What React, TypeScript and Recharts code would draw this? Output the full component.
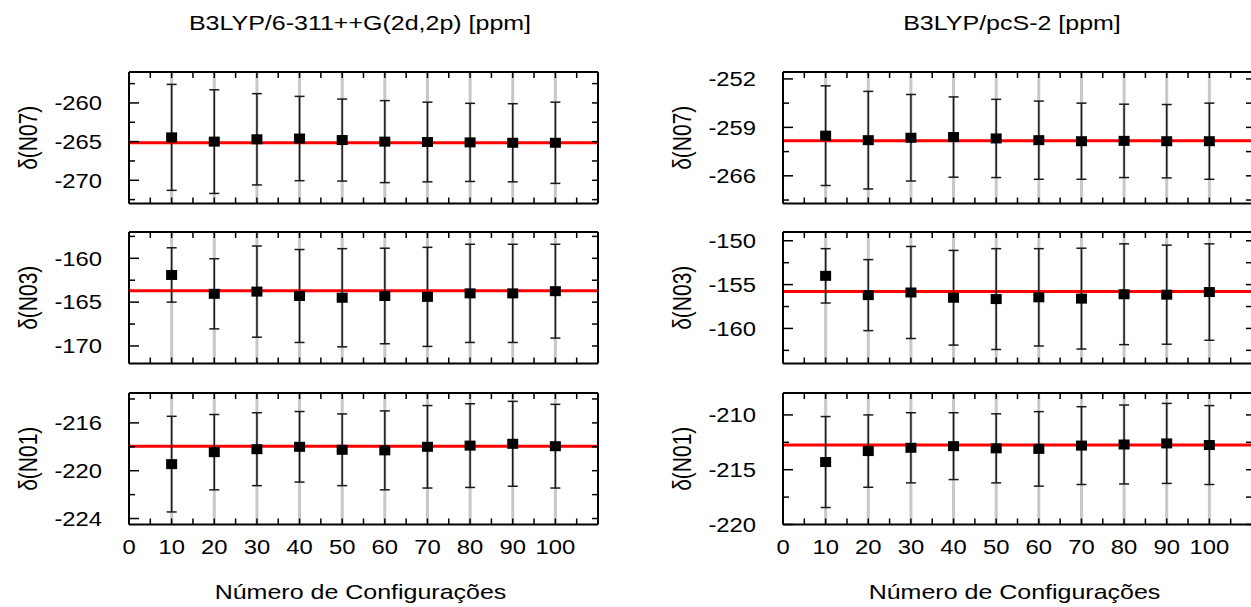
import React from 'react';
import {
  ComposedChart, Scatter, ErrorBar, XAxis, YAxis, ReferenceLine, CartesianGrid,
} from 'recharts';

// número de configurações
const configs = [10, 20, 30, 40, 50, 60, 70, 80, 90, 100];
const xLabelTicks = [0, 10, 20, 30, 40, 50, 60, 70, 80, 90, 100];
const xMinorTicks = [5, 15, 25, 35, 45, 55, 65, 75, 85, 95, 105];

// B3LYP/6-311++G(2d,2p)
const leftN07 = [-264.45, -265.0, -264.7, -264.6, -264.8, -265.0, -265.05, -265.1, -265.15, -265.15];
const leftN07Err = [6.85, 6.7, 5.9, 5.45, 5.3, 5.3, 5.15, 5.05, 5.05, 5.25];
const leftN07Mean = -265.15;
const leftN07Ticks = [-260, -265, -270];
const leftN07Minor = [-257.5, -262.5, -267.5, -272.5];

const leftN03 = [-161.9, -164.05, -163.8, -164.3, -164.5, -164.3, -164.4, -164.0, -164.0, -163.75];
const leftN03Err = [3.1, 4.0, 5.2, 5.3, 5.6, 5.45, 5.65, 5.6, 5.6, 5.35];
const leftN03Mean = -163.7;
const leftN03Ticks = [-160, -165, -170];
const leftN03Minor = [-157.5, -162.5, -167.5];

const leftN01 = [-219.45, -218.45, -218.2, -218.0, -218.25, -218.3, -218.0, -217.9, -217.75, -217.95];
const leftN01Err = [4.0, 3.15, 3.05, 2.95, 3.0, 3.3, 3.45, 3.5, 3.55, 3.5];
const leftN01Mean = -217.95;
const leftN01Ticks = [-216, -220, -224];
const leftN01Minor = [-214, -218, -222];

// B3LYP/pcS-2
const rightN07 = [-260.2, -260.85, -260.5, -260.4, -260.6, -260.85, -261.0, -260.95, -261.0, -261.0];
const rightN07Err = [7.2, 7.05, 6.25, 5.8, 5.65, 5.65, 5.5, 5.3, 5.3, 5.5];
const rightN07Mean = -260.95;
const rightN07Ticks = [-252, -259, -266];
const rightN07Minor = [-255.5, -262.5, -269.5];

const rightN03 = [-154.0, -156.2, -155.9, -156.5, -156.65, -156.45, -156.6, -156.1, -156.15, -155.85];
const rightN03Err = [3.1, 4.05, 5.25, 5.4, 5.75, 5.55, 5.75, 5.75, 5.65, 5.5];
const rightN03Mean = -155.8;
const rightN03Ticks = [-150, -155, -160];
const rightN03Minor = [-152.5, -157.5, -162.5];

const rightN01 = [-214.3, -213.3, -213.0, -212.85, -213.05, -213.1, -212.8, -212.7, -212.6, -212.75];
const rightN01Err = [4.15, 3.3, 3.2, 3.05, 3.15, 3.4, 3.55, 3.6, 3.65, 3.6];
const rightN01Mean = -212.75;
const rightN01Ticks = [-210, -215, -220];
const rightN01Minor = [-212.5, -217.5];

const FONT = '"Liberation Sans", Arial, Helvetica, sans-serif';
const STRETCH = 1.19; // the picture is a little wider than tall
const PLOT_W = 469;
const PLOT_H = 131.5;
const AXIS_W = 128;
const TOP = 10;
const RIGHT = 12;
const Y_GAP = 27;
const X_GAP = 29;
const AXIS_LINE = { stroke: '#000', strokeWidth: 2 };

const xTicks = [...xLabelTicks, ...xMinorTicks].sort((a, b) => a - b);
const isIn = (list: number[], v: number) => list.some((t) => Math.abs(t - v) < 1e-6);

const StretchText = ({ x, y, anchor, size, children, dy = 0 }: any) => (
  <g transform={`translate(${x},${y}) scale(${STRETCH},1)`}>
    <text x={0} y={0} dy={dy} textAnchor={anchor} fontSize={size} fontFamily={FONT} fill="#000">
      {children}
    </text>
  </g>
);

const makeLeftTick = (labels: number[]) => (props: any) => {
  const { x, y, payload } = props;
  const major = isIn(labels, payload.value);
  const edge = x + Y_GAP;
  return (
    <g>
      <line x1={edge} x2={edge + (major ? 10 : 6)} y1={y} y2={y} stroke="#000" strokeWidth={1.5} />
      {major && <StretchText x={x} y={y} dy="0.36em" anchor="end" size={20}>{payload.value}</StretchText>}
    </g>
  );
};

const rightTick = (props: any) => {
  const { x, y } = props;
  return <line x1={x} x2={x - 6} y1={y} y2={y} stroke="#000" strokeWidth={1.5} />;
};

const topTick = (props: any) => {
  const { x, y } = props;
  return <line x1={x} x2={x} y1={y} y2={y + 6} stroke="#000" strokeWidth={1.5} />;
};

const makeBottomTick = (showLabels: boolean) => (props: any) => {
  const { x, y, payload } = props;
  const edge = y - X_GAP;
  const major = isIn(xLabelTicks, payload.value);
  return (
    <g>
      <line x1={x} x2={x} y1={edge} y2={edge - 6} stroke="#000" strokeWidth={1.5} />
      {showLabels && major && <StretchText x={x} y={y} anchor="middle" size={20}>{payload.value}</StretchText>}
    </g>
  );
};

const Square = (props: any) => {
  const { cx, cy } = props;
  return <rect x={cx - 5.5} y={cy - 5} width={11} height={10} fill="#000" />;
};

type PanelProps = {
  values: number[];
  errors: number[];
  mean: number;
  domain: [number, number];
  labelTicks: number[];
  minorTicks: number[];
  yLabel: string;
  left: number;
  top: number;
  bottom: boolean;
};

const Panel: React.FC<PanelProps> = (p) => {
  const data = configs.map((x, i) => ({ x, y: p.values[i], err: p.errors[i] }));
  const yTicks = [...p.labelTicks, ...p.minorTicks].sort((a, b) => a - b);
  const xh = p.bottom ? 90 : 30;

  const yLabel = (lp: any) => {
    const vb = lp.viewBox;
    const cx = vb.x + vb.width - 101;
    const cy = vb.y + vb.height / 2;
    return (
      <g transform={`translate(${cx},${cy}) scale(${STRETCH},1) rotate(-90)`}>
        <text x={0} y={0} dy="0.35em" textAnchor="middle" fontSize={21} fontFamily={FONT} fill="#000">
          {p.yLabel}
        </text>
      </g>
    );
  };

  const xLabel = (lp: any) => {
    const vb = lp.viewBox;
    return (
      <StretchText x={vb.x + vb.width / 2 - 3} y={vb.y + 74} anchor="middle" size={21}>
        Número de Configurações
      </StretchText>
    );
  };

  return (
    <div style={{ position: 'absolute', left: p.left, top: p.top }}>
      <ComposedChart
        width={AXIS_W + PLOT_W + RIGHT}
        height={TOP + PLOT_H + xh}
        margin={{ top: TOP - 1, right: RIGHT - 1, bottom: 0, left: 0 }}
        data={data}
      >
        <CartesianGrid
          xAxisId="b"
          yAxisId="l"
          horizontal={false}
          verticalValues={configs}
          stroke="#c8c8c8"
          strokeWidth={3}
        />
        <XAxis
          xAxisId="b"
          dataKey="x"
          type="number"
          domain={[0, 110]}
          allowDataOverflow
          ticks={xTicks}
          interval={0}
          height={xh}
          tickSize={0}
          tickMargin={X_GAP}
          tickLine={false}
          axisLine={AXIS_LINE}
          tick={makeBottomTick(p.bottom)}
          label={p.bottom ? xLabel : undefined}
        />
        <XAxis
          xAxisId="t"
          orientation="top"
          dataKey="x"
          type="number"
          domain={[0, 110]}
          allowDataOverflow
          ticks={xTicks}
          interval={0}
          height={1}
          tickSize={0}
          tickMargin={0}
          tickLine={false}
          axisLine={AXIS_LINE}
          tick={topTick}
        />
        <YAxis
          yAxisId="l"
          type="number"
          domain={p.domain}
          allowDataOverflow
          ticks={yTicks}
          interval={0}
          width={AXIS_W}
          tickSize={0}
          tickMargin={Y_GAP}
          tickLine={false}
          axisLine={AXIS_LINE}
          tick={makeLeftTick(p.labelTicks)}
          label={yLabel}
        />
        <YAxis
          yAxisId="r"
          orientation="right"
          type="number"
          domain={p.domain}
          allowDataOverflow
          ticks={yTicks}
          interval={0}
          width={1}
          tickSize={0}
          tickMargin={0}
          tickLine={false}
          axisLine={AXIS_LINE}
          tick={rightTick}
        />
        <ReferenceLine xAxisId="b" yAxisId="l" y={p.mean} stroke="#ff0000" strokeWidth={3} />
        <Scatter xAxisId="b" yAxisId="l" dataKey="y" shape={Square} isAnimationActive={false}>
          <ErrorBar dataKey="err" direction="y" width={5} stroke="#1a1a1a" strokeWidth={1.5} isAnimationActive={false} />
        </Scatter>
      </ComposedChart>
    </div>
  );
};

const LEFT_COL = 0.5;
const RIGHT_COL = 655;
const ROW_TOPS = [61.8, 222.3, 383.2];

export default function App() {
  return (
    <div
      style={{
        position: 'absolute', left: 0, top: 0, width: 1251, height: 607,
        overflow: 'hidden', background: '#fff',
      }}
    >
      <Panel values={leftN07} errors={leftN07Err} mean={leftN07Mean} domain={[-273, -256]}
        labelTicks={leftN07Ticks} minorTicks={leftN07Minor} yLabel="δ(N07)"
        left={LEFT_COL} top={ROW_TOPS[0]} bottom={false} />
      <Panel values={leftN03} errors={leftN03Err} mean={leftN03Mean} domain={[-172, -157]}
        labelTicks={leftN03Ticks} minorTicks={leftN03Minor} yLabel="δ(N03)"
        left={LEFT_COL} top={ROW_TOPS[1]} bottom={false} />
      <Panel values={leftN01} errors={leftN01Err} mean={leftN01Mean} domain={[-224.5, -213.5]}
        labelTicks={leftN01Ticks} minorTicks={leftN01Minor} yLabel="δ(N01)"
        left={LEFT_COL} top={ROW_TOPS[2]} bottom />
      <Panel values={rightN07} errors={rightN07Err} mean={rightN07Mean} domain={[-270, -251]}
        labelTicks={rightN07Ticks} minorTicks={rightN07Minor} yLabel="δ(N07)"
        left={RIGHT_COL} top={ROW_TOPS[0]} bottom={false} />
      <Panel values={rightN03} errors={rightN03Err} mean={rightN03Mean} domain={[-164, -149]}
        labelTicks={rightN03Ticks} minorTicks={rightN03Minor} yLabel="δ(N03)"
        left={RIGHT_COL} top={ROW_TOPS[1]} bottom={false} />
      <Panel values={rightN01} errors={rightN01Err} mean={rightN01Mean} domain={[-220, -208]}
        labelTicks={rightN01Ticks} minorTicks={rightN01Minor} yLabel="δ(N01)"
        left={RIGHT_COL} top={ROW_TOPS[2]} bottom />
      <svg width={1251} height={607} style={{ position: 'absolute', left: 0, top: 0, pointerEvents: 'none' }}>
        <StretchText x={360} y={29.5} anchor="middle" size={21}>B3LYP/6-311++G(2d,2p) [ppm]</StretchText>
        <StretchText x={1012} y={29.5} anchor="middle" size={21}>B3LYP/pcS-2 [ppm]</StretchText>
      </svg>
    </div>
  );
}
